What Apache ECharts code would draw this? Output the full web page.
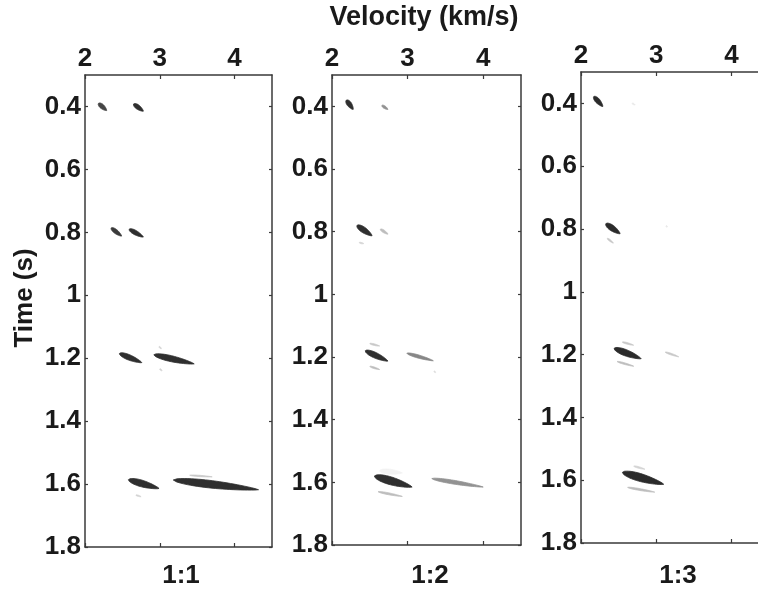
<!DOCTYPE html>
<html>
<head>
<meta charset="utf-8">
<script src="https://cdn.jsdelivr.net/npm/echarts@6/dist/echarts.min.js"></script>
<style>
html,body{margin:0;padding:0;background:#fff;}
#chart{width:758px;height:592px;}
</style>
</head>
<body>
<div id="chart"></div>
<script>
// ---- data ----
var panelLabels = ['1:1', '1:2', '1:3'];
var xTickValues = [2, 3, 4];
var yTickValues = [0.4, 0.6, 0.8, 1.0, 1.2, 1.4, 1.6, 1.8];
var xRange = [2, 4.5];
var yRange = [0.3, 1.8];
// each event: [v start, t start, v end, t end, thickness (s), amplitude 0..1]
var events11 = [
  [2.18, 0.390, 2.29, 0.413, 0.014, 0.85],
  [2.65, 0.392, 2.78, 0.415, 0.014, 0.95],
  [2.35, 0.786, 2.49, 0.812, 0.013, 0.90],
  [2.59, 0.790, 2.78, 0.815, 0.014, 0.95],
  [2.46, 1.185, 2.76, 1.214, 0.017, 0.95],
  [2.92, 1.189, 3.46, 1.218, 0.019, 0.95],
  [2.99, 1.163, 3.02, 1.170, 0.004, 0.20],
  [3.00, 1.234, 3.03, 1.240, 0.004, 0.20],
  [2.58, 1.586, 2.99, 1.614, 0.021, 0.95],
  [3.18, 1.587, 4.32, 1.618, 0.024, 0.95],
  [3.40, 1.572, 3.70, 1.577, 0.004, 0.25],
  [2.68, 1.635, 2.75, 1.640, 0.004, 0.20]
];
var events12 = [
  [2.19, 0.380, 2.28, 0.410, 0.015, 0.95],
  [2.66, 0.397, 2.74, 0.410, 0.008, 0.50],
  [2.33, 0.780, 2.53, 0.813, 0.018, 0.95],
  [2.64, 0.792, 2.74, 0.808, 0.008, 0.30],
  [2.36, 0.835, 2.42, 0.838, 0.004, 0.20],
  [2.44, 1.180, 2.74, 1.213, 0.018, 0.95],
  [2.99, 1.188, 3.34, 1.212, 0.010, 0.55],
  [2.50, 1.157, 2.63, 1.165, 0.005, 0.25],
  [2.50, 1.230, 2.63, 1.240, 0.005, 0.30],
  [3.35, 1.245, 3.37, 1.250, 0.004, 0.15],
  [2.56, 1.580, 3.06, 1.615, 0.025, 0.95],
  [3.32, 1.588, 4.00, 1.615, 0.012, 0.50],
  [2.61, 1.630, 2.93, 1.645, 0.006, 0.30],
  [2.63, 1.563, 2.93, 1.570, 0.016, 0.06]
];
var events13 = [
  [2.17, 0.378, 2.29, 0.410, 0.015, 0.97],
  [2.68, 0.400, 2.72, 0.405, 0.004, 0.10],
  [2.33, 0.783, 2.52, 0.815, 0.018, 0.97],
  [2.35, 0.830, 2.43, 0.845, 0.005, 0.25],
  [3.13, 0.790, 3.15, 0.793, 0.004, 0.10],
  [2.44, 1.180, 2.80, 1.213, 0.020, 0.97],
  [2.55, 1.160, 2.70, 1.170, 0.005, 0.25],
  [2.48, 1.222, 2.70, 1.237, 0.005, 0.30],
  [3.12, 1.192, 3.30, 1.207, 0.005, 0.25],
  [2.55, 1.575, 3.10, 1.613, 0.025, 0.97],
  [2.70, 1.555, 2.85, 1.565, 0.005, 0.20],
  [2.62, 1.623, 2.98, 1.638, 0.006, 0.30]
];
var allEvents = [events11, events12, events13];

// ---- layout ----
var grids = [
  {left: 85, top: 75, width: 187, height: 472},
  {left: 332, top: 75, width: 189, height: 470},
  {left: 581, top: 72, width: 188, height: 471}
];
var FONT = 'Liberation Sans';
var frameColor = '#3a3a3a';

function renderEvent(params, api) {
  var v1 = api.value(0), t1 = api.value(1), v2 = api.value(2), t2 = api.value(3);
  var th = api.value(4), amp = api.value(5);
  var p1 = api.coord([v1, t1]);
  var p2 = api.coord([v2, t2]);
  var thPx = Math.abs(api.size([0, th])[1]);
  var dx = p2[0] - p1[0], dy = p2[1] - p1[1];
  var L = Math.sqrt(dx * dx + dy * dy) || 1;
  var nx = -dy / L, ny = dx / L;
  var N = 24, up = [], lo = [];
  for (var i = 0; i <= N; i++) {
    var s = i / N;
    var w = thPx / 2 * Math.pow(Math.sin(Math.PI * Math.pow(s, 0.75)), 0.7);
    var cx = p1[0] + dx * s, cy = p1[1] + dy * s;
    up.push([cx + nx * w, cy + ny * w]);
    lo.push([cx - nx * w, cy - ny * w]);
  }
  var pts = up.concat(lo.reverse());
  var g = Math.round(255 - amp * (255 - 36));
  var col = 'rgb(' + g + ',' + g + ',' + g + ')';
  return {
    type: 'polygon',
    shape: {points: pts},
    style: {fill: col, stroke: col, lineWidth: 0.8}
  };
}

var xAxes = [], yAxes = [], series = [], gridOpts = [];
for (var k = 0; k < 3; k++) {
  gridOpts.push({left: grids[k].left, top: grids[k].top, width: grids[k].width, height: grids[k].height,
    show: false, containLabel: false, outerBoundsMode: 'none'});
  // top x axis (labels)
  xAxes.push({
    type: 'value', gridIndex: k, position: 'top', min: xRange[0], max: xRange[1],
    axisLine: {show: true, onZero: false, lineStyle: {color: frameColor, width: 1.5}},
    axisTick: {show: true, inside: true, length: 4, customValues: xTickValues, lineStyle: {color: frameColor, width: 1.2}},
    axisLabel: {show: true, customValues: xTickValues, margin: 3, color: '#1a1a1a',
      fontFamily: FONT, fontWeight: 'bold', fontSize: 26},
    splitLine: {show: false}
  });
  // bottom x axis (frame)
  xAxes.push({
    type: 'value', gridIndex: k, position: 'bottom', min: xRange[0], max: xRange[1],
    axisLine: {show: true, onZero: false, lineStyle: {color: frameColor, width: 1.5}},
    axisTick: {show: true, inside: true, length: 4, customValues: xTickValues, lineStyle: {color: frameColor, width: 1.2}},
    axisLabel: {show: false},
    splitLine: {show: false}
  });
  // left y axis (labels)
  yAxes.push({
    type: 'value', gridIndex: k, position: 'left', inverse: true, min: yRange[0], max: yRange[1],
    axisLine: {show: true, onZero: false, lineStyle: {color: frameColor, width: 1.5}},
    axisTick: {show: true, inside: true, length: 3, customValues: yTickValues, lineStyle: {color: frameColor, width: 1.2}},
    axisLabel: {show: true, customValues: yTickValues, margin: 4, color: '#1a1a1a',
      fontFamily: FONT, fontWeight: 'bold', fontSize: 26,
      formatter: function (v) { return String(Math.round(v * 10) / 10); }},
    splitLine: {show: false}
  });
  // right y axis (frame)
  yAxes.push({
    type: 'value', gridIndex: k, position: 'right', inverse: true, min: yRange[0], max: yRange[1],
    axisLine: {show: k < 2, onZero: false, lineStyle: {color: frameColor, width: 1.5}},
    axisTick: {show: k < 2, inside: true, length: 3, customValues: yTickValues, lineStyle: {color: frameColor, width: 1.2}},
    axisLabel: {show: false},
    splitLine: {show: false}
  });
  series.push({
    type: 'custom', name: panelLabels[k], coordinateSystem: 'cartesian2d',
    xAxisIndex: 2 * k, yAxisIndex: 2 * k, clip: true,
    renderItem: renderEvent,
    data: allEvents[k],
    silent: true
  });
}

var graphics = [
  {type: 'text', x: 424, y: 18, style: {text: 'Velocity (km/s)', fill: '#1a1a1a',
    font: 'bold 27px ' + FONT, align: 'center', verticalAlign: 'middle'}},
  {type: 'text', rotation: Math.PI / 2, x: 25, y: 298, style: {text: 'Time (s)', fill: '#1a1a1a',
    font: 'bold 26px ' + FONT, align: 'center', verticalAlign: 'middle'}}
];
var subCenters = [181, 430, 678];
for (var j = 0; j < 3; j++) {
  graphics.push({type: 'text', x: subCenters[j], y: 576, style: {text: panelLabels[j], fill: '#1a1a1a',
    font: 'bold 26px ' + FONT, align: 'center', verticalAlign: 'middle'}});
}

var chart = echarts.init(document.getElementById('chart'), null, {renderer: 'canvas'});
chart.setOption({
  backgroundColor: '#ffffff',
  animation: false,
  grid: gridOpts,
  xAxis: xAxes,
  yAxis: yAxes,
  series: series,
  graphic: graphics
});
</script>
</body>
</html>
